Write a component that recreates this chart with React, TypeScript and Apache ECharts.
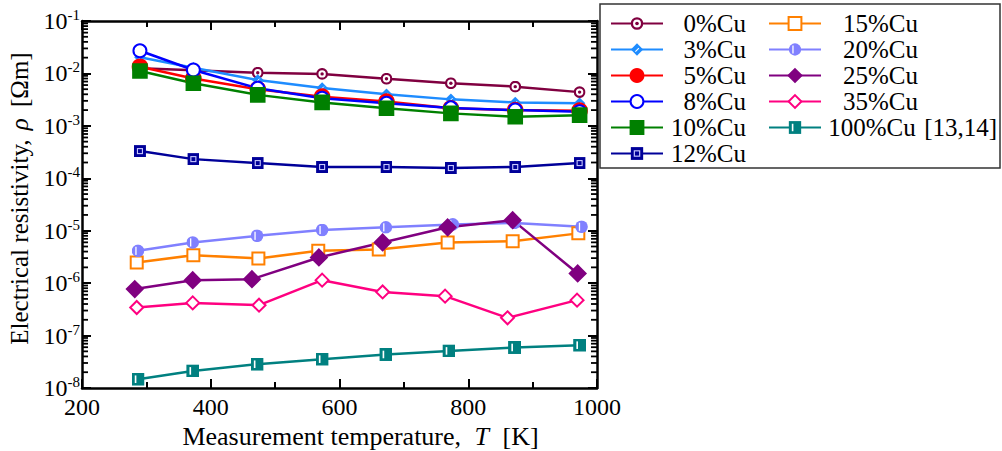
import React, { useEffect, useRef } from "react";
import * as echarts from "echarts";

const FONT = "'Liberation Serif', 'Times New Roman', serif";

// Temperatures (K)
const tempsStd = [290, 373, 473, 573, 673, 773, 873, 973];
const temps15 = [285, 373, 474, 567, 661, 768, 869, 971];
const temps20 = [287, 372, 472, 573, 672, 776, 872, 976];
const temps25 = [282, 372, 464, 568, 667, 768, 869, 970];
const temps35 = [285, 372, 475, 573, 667, 764, 861, 969];
const temps100 = [287, 372, 472, 573, 672, 770, 872, 973];

// Resistivity (Ohm m)
const cu0 = [0.0125, 0.0115, 0.0103, 0.0098, 0.0079, 0.0065, 0.0056, 0.0044];
const cu3 = [0.0203, 0.0128, 0.0075, 0.0053, 0.004, 0.0032, 0.0028, 0.0027];
const cu5 = [0.0134, 0.008, 0.005, 0.0036, 0.0029, 0.00216, 0.002, 0.00195];
const cu8 = [0.0271, 0.0116, 0.0052, 0.00335, 0.0027, 0.0022, 0.002, 0.00186];
const cu10 = [0.0111, 0.0065, 0.0039, 0.0028, 0.00216, 0.00173, 0.00149, 0.0016];
const cu12 = [3.3e-4, 2.32e-4, 1.95e-4, 1.64e-4, 1.64e-4, 1.57e-4, 1.64e-4, 1.95e-4];
const cu15 = [2.48e-6, 3.42e-6, 2.96e-6, 4.13e-6, 4.4e-6, 5.98e-6, 6.3e-6, 8.9e-6];
const cu20 = [4.13e-6, 5.98e-6, 8.0e-6, 1.03e-5, 1.16e-5, 1.32e-5, 1.41e-5, 1.19e-5];
const cu25 = [7.7e-7, 1.14e-6, 1.19e-6, 3.09e-6, 5.98e-6, 1.16e-5, 1.59e-5, 1.53e-6];
const cu35 = [3.43e-7, 4.2e-7, 3.8e-7, 1.14e-6, 6.8e-7, 5.65e-7, 2.18e-7, 4.74e-7];
const cu100 = [1.47e-8, 2.12e-8, 2.84e-8, 3.55e-8, 4.36e-8, 5.1e-8, 5.93e-8, 6.56e-8];

const legendLeft = ["0%Cu", "3%Cu", "5%Cu", "8%Cu", "10%Cu", "12%Cu"];
const legendRight = ["15%Cu", "20%Cu", "25%Cu", "35%Cu", "100%Cu [13,14]"];

const svgSym = (inner: string) =>
  "image://data:image/svg+xml;charset=utf-8," +
  encodeURIComponent(
    `<svg xmlns='http://www.w3.org/2000/svg' width='48' height='48' viewBox='0 0 24 24'>${inner}</svg>`
  );

const sym0 = svgSym(
  "<circle cx='12' cy='12' r='9.6' fill='#fff' stroke='#800040' stroke-width='4.4'/><circle cx='12' cy='12' r='3.4' fill='#800040'/>"
);
const sym3 = svgSym(
  "<polygon points='12,0.5 23.5,12 12,23.5 0.5,12' fill='#1E8CFF'/><line x1='9' y1='16' x2='15.5' y2='9.5' stroke='#fff' stroke-width='2'/>"
);
const sym12 = svgSym(
  "<rect x='0' y='0' width='24' height='24' fill='#000099'/><rect x='7' y='7' width='10' height='10' fill='none' stroke='#c8c8ff' stroke-width='2.2'/>"
);
const sym20 = svgSym(
  "<circle cx='12' cy='12' r='11.6' fill='#8080FF'/><rect x='7' y='4.5' width='2.4' height='15' fill='#fff'/>"
);
const sym100 = svgSym(
  "<rect x='0' y='0' width='24' height='24' fill='#008080'/><rect x='6' y='5' width='3' height='14' fill='#fff'/>"
);

const zip = (t: number[], v: number[]) => t.map((x, i) => [x, v[i]]);

const minorVals: number[][] = [];
for (let e = -8; e < -1; e++) {
  for (let m = 2; m <= 9; m++) minorVals.push([200, m * Math.pow(10, e)]);
}

export default function App() {
  const ref = useRef<HTMLDivElement>(null);
  useEffect(() => {
    if (!ref.current) return;
    const chart = echarts.init(ref.current, null, { renderer: "svg" });

    const mk = (
      name: string,
      t: number[],
      v: number[],
      color: string,
      symbol: string,
      size: number
    ) => ({
      name,
      type: "line",
      data: zip(t, v),
      symbol,
      symbolSize: size,
      lineStyle: { color, width: 2.5 },
      itemStyle: { color, borderColor: color, borderWidth: 2.6 },
      color,
      showAllSymbol: true,
      z: 3,
    });

    const axisCommon = {
      axisLine: { show: true, onZero: false, lineStyle: { color: "#000", width: 2.5 } },
      splitLine: { show: false },
    };

    const option: any = {
      animation: false,
      backgroundColor: "#fff",
      textStyle: { fontFamily: FONT },
      grid: { left: 82, right: 405, top: 21, bottom: 63, containLabel: false, outerBoundsMode: "none" },
      xAxis: [
        {
          type: "value",
          min: 200,
          max: 1000,
          interval: 200,
          position: "bottom",
          ...axisCommon,
          axisTick: { show: true, inside: true, length: 9, lineStyle: { color: "#000", width: 2 } },
          minorTick: { show: true, splitNumber: 2, length: 6, lineStyle: { color: "#000", width: 2 } },
          axisLabel: {
            color: "#000",
            fontSize: 24,
            fontFamily: FONT,
            margin: 7,
            formatter: (v: number) => String(v),
          },
          name: "Measurement temperature, {i|T} [K]",
          nameLocation: "middle",
          nameGap: 30,
          nameTextStyle: {
            color: "#000",
            fontSize: 26,
            fontFamily: FONT,
            lineHeight: 26,
            padding: [0, 0, 0, 42],
            rich: { i: { fontStyle: "italic", fontSize: 26, lineHeight: 26, fontFamily: FONT, color: "#000", padding: [0, 7, 0, 7] } },
          },
        },
        {
          type: "value",
          min: 200,
          max: 1000,
          interval: 200,
          position: "top",
          ...axisCommon,
          axisTick: { show: true, inside: true, length: 9, lineStyle: { color: "#000", width: 2 } },
          minorTick: { show: true, splitNumber: 2, length: 6, lineStyle: { color: "#000", width: 2 } },
          axisLabel: { show: false },
        },
      ],
      yAxis: [
        {
          type: "log",
          logBase: 10,
          min: 1e-8,
          max: 1e-1,
          splitNumber: 7,
          position: "left",
          ...axisCommon,
          axisTick: { show: true, inside: true, length: 9, lineStyle: { color: "#000", width: 2 } },
          axisLabel: {
            margin: 2,
            formatter: (v: number) => `{b|10}{s|${Math.round(Math.log10(v))}}`,
            rich: {
              b: { fontSize: 24, fontFamily: FONT, color: "#000" },
              s: { fontSize: 15, fontFamily: FONT, color: "#000", padding: [0, 0, 12, 0] },
            },
          },
          name: "Electrical resistivity, {i|ρ} [Ωm]",
          nameLocation: "middle",
          nameGap: 50,
          nameTextStyle: {
            color: "#000",
            fontSize: 25,
            fontFamily: FONT,
            padding: [0, 0, 0, 12],
            rich: { i: { fontStyle: "italic", fontSize: 25, fontFamily: FONT, color: "#000", padding: [0, 5, 0, 3] } },
          },
        },
        {
          type: "log",
          logBase: 10,
          min: 1e-8,
          max: 1e-1,
          splitNumber: 7,
          position: "right",
          ...axisCommon,
          axisTick: { show: true, inside: true, length: 9, lineStyle: { color: "#000", width: 2 } },
          axisLabel: { show: false },
        },
      ],
      legend: [
        {
          orient: "vertical",
          left: 610,
          top: 11,
          itemWidth: 52,
          itemHeight: 16,
          itemGap: 1,
          padding: 0,
          data: legendLeft,
          formatter: (n: string) => `{a|${n}}`,
          textStyle: {
            fontFamily: FONT,
            fontSize: 25,
            color: "#000",
            lineHeight: 25,
            rich: { a: { width: 78, align: "right", fontSize: 25, fontFamily: FONT, color: "#000" } },
          },
        },
        {
          orient: "vertical",
          left: 768,
          top: 11,
          itemWidth: 52,
          itemHeight: 16,
          itemGap: 1,
          padding: 0,
          data: legendRight,
          formatter: (n: string) => {
            const m = n.match(/^(\S+)(.*)$/);
            return m && m[2] ? `{a|${m[1]}}{c|${m[2]}}` : `{a|${n}}`;
          },
          textStyle: {
            fontFamily: FONT,
            fontSize: 25,
            color: "#000",
            lineHeight: 25,
            rich: {
              a: { width: 92, align: "right", fontSize: 25, fontFamily: FONT, color: "#000" },
              c: { fontSize: 25, fontFamily: FONT, color: "#000" },
            },
          },
        },
      ],
      graphic: [
        {
          type: "rect",
          shape: { x: 600, y: 4, width: 400, height: 164 },
          style: { fill: "none", stroke: "#333", lineWidth: 1.5 },
          silent: true,
          z: 0,
        },
      ],
      series: [
        mk("0%Cu", tempsStd, cu0, "#800040", sym0, 12),
        mk("3%Cu", tempsStd, cu3, "#1E8CFF", sym3, 12),
        mk("5%Cu", tempsStd, cu5, "#FF0000", "circle", 14),
        mk("8%Cu", tempsStd, cu8, "#0000FF", "emptyCircle", 13),
        mk("10%Cu", tempsStd, cu10, "#008000", "rect", 13),
        mk("12%Cu", tempsStd, cu12, "#000099", sym12, 12),
        mk("15%Cu", temps15, cu15, "#FF8000", "emptyRect", 12),
        mk("20%Cu", temps20, cu20, "#8080FF", sym20, 13),
        mk("25%Cu", temps25, cu25, "#800080", "diamond", 15),
        mk("35%Cu", temps35, cu35, "#FF0080", "emptyDiamond", 13),
        mk("100%Cu [13,14]", temps100, cu100, "#008080", sym100, 13),
        {
          type: "custom",
          name: "minorTicks",
          silent: true,
          data: minorVals,
          z: 5,
          renderItem: (params: any, api: any) => {
            const pt = api.coord([api.value(0), api.value(1)]);
            const cs = params.coordSys;
            const st = { stroke: "#000", lineWidth: 1.8 };
            return {
              type: "group",
              children: [
                { type: "line", shape: { x1: cs.x, y1: pt[1], x2: cs.x + 6, y2: pt[1] }, style: st },
                { type: "line", shape: { x1: cs.x + cs.width, y1: pt[1], x2: cs.x + cs.width - 6, y2: pt[1] }, style: st },
              ],
            };
          },
        },
      ],
    };
    chart.setOption(option);
    return () => chart.dispose();
  }, []);
  return (
    <div
      ref={ref}
      style={{ position: "fixed", left: 0, top: 0, width: 1002, height: 451, background: "#fff" }}
    />
  );
}
